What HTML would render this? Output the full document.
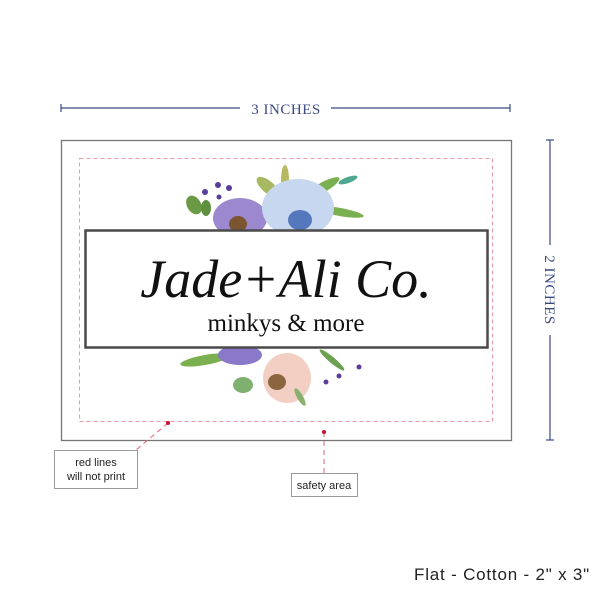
<!DOCTYPE html>
<html><head><meta charset="utf-8"><style>
html,body{margin:0;padding:0;background:#fff;width:600px;height:600px;overflow:hidden}
</style></head><body>
<svg width="600" height="600" viewBox="0 0 600 600" xmlns="http://www.w3.org/2000/svg">
<rect width="600" height="600" fill="#fff"/>
<g stroke="#3b4a80" stroke-width="1.2">
<line x1="61" y1="108" x2="240" y2="108"/><line x1="331" y1="108" x2="510" y2="108"/>
<line x1="61" y1="104" x2="61" y2="112"/><line x1="510" y1="104" x2="510" y2="112"/>
<line x1="550" y1="140" x2="550" y2="245"/><line x1="550" y1="335" x2="550" y2="440"/>
<line x1="546" y1="140" x2="554" y2="140"/><line x1="546" y1="440" x2="554" y2="440"/>
</g>
<text x="286" y="114" font-family="Liberation Serif,serif" font-size="15" fill="#3b4a80" text-anchor="middle" letter-spacing="0.5">3 INCHES</text>
<text transform="translate(545,290) rotate(90)" font-family="Liberation Serif,serif" font-size="15" fill="#3b4a80" text-anchor="middle" letter-spacing="0.5">2 INCHES</text>
<rect x="61.5" y="140.5" width="450" height="300" fill="#fff" stroke="#777" stroke-width="1.3"/>
<rect x="79.5" y="158.5" width="413" height="263" fill="none" stroke="#e89aaa" stroke-width="1" stroke-dasharray="4,3"/>
<g>
<ellipse cx="194" cy="205" rx="7" ry="10" fill="#6a9a45" transform="rotate(-30 194 205)"/>
<ellipse cx="206" cy="208" rx="5" ry="8" fill="#5f9040"/>
<circle cx="205" cy="192" r="3" fill="#5a3d9a"/><circle cx="218" cy="185" r="3" fill="#5a3d9a"/><circle cx="229" cy="188" r="3" fill="#5a3d9a"/><circle cx="219" cy="197" r="2.5" fill="#5a3d9a"/>
<ellipse cx="268" cy="187" rx="14" ry="6" fill="#a8b860" transform="rotate(40 268 187)"/>
<ellipse cx="285" cy="180" rx="4" ry="15" fill="#b8b860"/>
<ellipse cx="322" cy="188" rx="20" ry="5" fill="#7ab050" transform="rotate(-30 322 188)"/>
<ellipse cx="340" cy="212" rx="24" ry="4" fill="#7ab050" transform="rotate(10 340 212)"/>
<ellipse cx="348" cy="180" rx="10" ry="3" fill="#4ea890" transform="rotate(-20 348 180)"/>
<ellipse cx="240" cy="218" rx="27" ry="20" fill="#9b88cf"/>
<ellipse cx="238" cy="224" rx="9" ry="8" fill="#7a5530"/>
<ellipse cx="298" cy="208" rx="36" ry="29" fill="#c7d7f0"/>
<ellipse cx="300" cy="220" rx="12" ry="10" fill="#5577bb"/>
</g>
<g>
<ellipse cx="205" cy="360" rx="25" ry="5" fill="#7ab050" transform="rotate(-10 205 360)"/>
<ellipse cx="243" cy="385" rx="10" ry="8" fill="#80b070"/>
<ellipse cx="240" cy="355" rx="22" ry="10" fill="#8a78c8"/>
<ellipse cx="332" cy="360" rx="16" ry="3" fill="#6aa050" transform="rotate(40 332 360)"/>
<circle cx="326" cy="382" r="2.5" fill="#5a3d9a"/><circle cx="339" cy="376" r="2.5" fill="#5a3d9a"/><circle cx="359" cy="367" r="2.5" fill="#5a3d9a"/>
<ellipse cx="287" cy="378" rx="24" ry="25" fill="#f2cfc2"/>
<ellipse cx="277" cy="382" rx="9" ry="8" fill="#8a6540"/>
<ellipse cx="300" cy="397" rx="3" ry="10" fill="#8ab070" transform="rotate(-30 300 397)"/>
</g>
<rect x="85.5" y="230.5" width="402" height="117" fill="#fff" stroke="#4a4a4a" stroke-width="2.5"/>
<text x="286" y="297" font-family="Liberation Serif,serif" font-style="italic" font-size="54" fill="#111" text-anchor="middle">Jade+Ali Co.</text>
<text x="286" y="331" font-family="Liberation Serif,serif" font-size="25" fill="#111" text-anchor="middle">minkys &amp; more</text>
<g stroke="#e06070" stroke-width="1" stroke-dasharray="5,4" fill="none">
<line x1="168" y1="423" x2="136" y2="450"/>
<line x1="324" y1="432" x2="324" y2="473"/>
</g>
<circle cx="168" cy="423" r="2" fill="#c8102e"/><circle cx="324" cy="432" r="2" fill="#c8102e"/>
<rect x="54.5" y="450.5" width="83" height="38" fill="#fff" stroke="#999"/>
<text x="96" y="466" font-family="Liberation Sans,sans-serif" font-size="11" fill="#222" text-anchor="middle">red lines</text>
<text x="96" y="480" font-family="Liberation Sans,sans-serif" font-size="11" fill="#222" text-anchor="middle">will not print</text>
<rect x="291.5" y="473.5" width="66" height="23" fill="#fff" stroke="#999"/>
<text x="324" y="489" font-family="Liberation Sans,sans-serif" font-size="11" fill="#222" text-anchor="middle">safety area</text>
<text x="590" y="580" font-family="Liberation Sans,sans-serif" font-size="17" fill="#222" text-anchor="end" letter-spacing="0.8">Flat - Cotton - 2" x 3"</text>
</svg>
</body></html>
